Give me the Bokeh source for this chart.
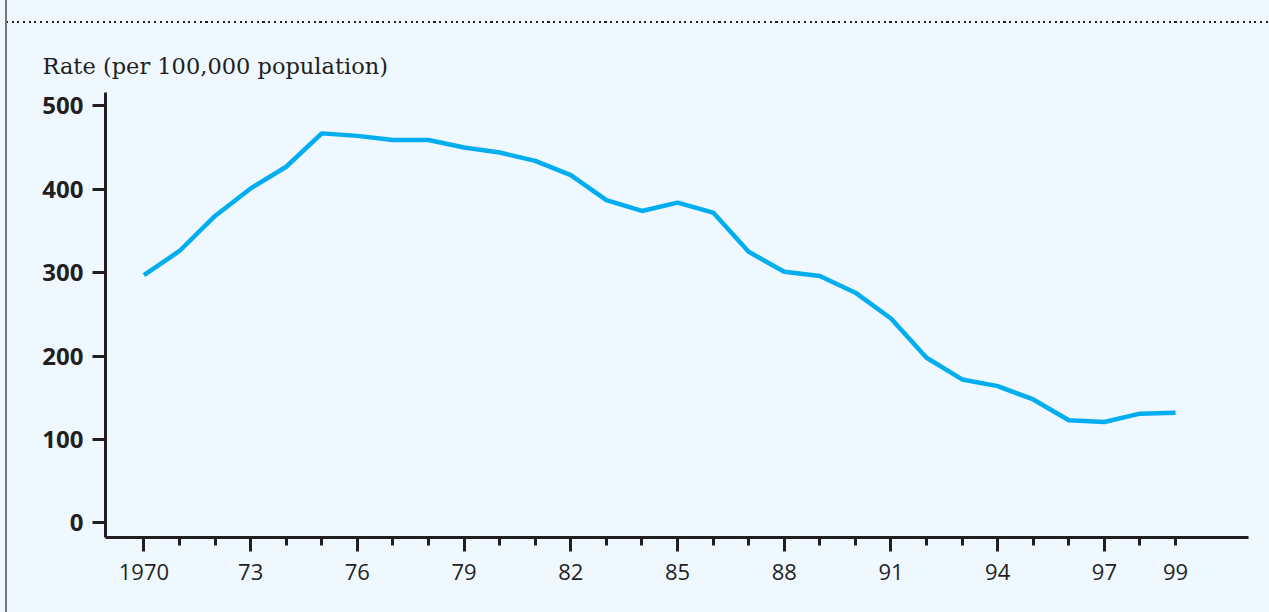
from bokeh.plotting import figure
from bokeh.models import FixedTicker, Range1d, GlobalInlineStyleSheet
from bokeh.embed import file_html
from bokeh.resources import INLINE

years = list(range(1970, 2000))
rates = [297, 326, 368, 401, 427, 467, 464, 459, 459, 450,
         444, 434, 417, 387, 374, 384, 372, 325, 301, 296,
         276, 245, 198, 172, 164, 148, 123, 121, 131, 132]
x_label_years = [1970, 1973, 1976, 1979, 1982, 1985, 1988, 1991, 1994, 1997, 1999]
x_label_texts = ["1970", "73", "76", "79", "82", "85", "88", "91", "94", "97", "99"]
long_tick_years = [1970, 1973, 1976, 1979, 1982, 1985, 1988, 1991, 1994, 1997]
y_ticks = [0, 100, 200, 300, 400, 500]
y_title = "Rate (per 100,000 population)"

BG = "#eff8fe"
INK = "#231f20"
W, H = 1269, 612
FL, FR, FT, FB = 105, 1248, 92, 537

css = f"""
html, body {{ margin: 0 !important; padding: 0; background: {BG}; overflow: hidden; }}
body::before {{ content: ""; position: fixed; top: 21px; left: 6px; right: 0; height: 2px;
  background: repeating-linear-gradient(to right, #222 0px, #222 2px, transparent 2px, transparent 5.7px);
  z-index: 100; pointer-events: none; }}
body::after {{ content: ""; position: fixed; top: 0; bottom: 0; left: 5px; width: 1.5px;
  background: #777; z-index: 100; pointer-events: none; }}
"""

p = figure(width=W, height=H, output_backend="svg", toolbar_location=None,
           x_range=Range1d(1968.92, 2001.05), y_range=Range1d(-17.5, 516),
           min_border_left=FL, min_border_right=W - FR,
           min_border_top=FT, min_border_bottom=H - FB,
           title=y_title)
p.stylesheets = [GlobalInlineStyleSheet(css=css)]
p.background_fill_color = BG
p.border_fill_color = BG
p.outline_line_color = None
p.grid.visible = False

p.title.align = "left"
p.title.offset = 42 - FL
p.title.text_font = "DejaVu Serif"
p.title.text_font_size = "22.5px"
p.title.text_font_style = "normal"
p.title.text_color = INK
p.title.standoff = 28

p.line(years, rates, line_color="#00aeef", line_width=4.5)

# x axis
xa = p.xaxis[0]
xa.ticker = FixedTicker(ticks=years, minor_ticks=long_tick_years)
overrides = {y: "" for y in years}
for yr, t in zip(x_label_years, x_label_texts):
    overrides[yr] = t
xa.major_label_overrides = overrides
xa.axis_line_color = INK
xa.axis_line_width = 3
xa.major_tick_line_color = INK
xa.major_tick_line_width = 3
xa.major_tick_in = 0
xa.major_tick_out = 8
xa.minor_tick_line_color = INK
xa.minor_tick_line_width = 3
xa.minor_tick_in = 0
xa.minor_tick_out = 14
xa.major_label_text_font = "Open Sans"
xa.major_label_text_font_size = "22px"
xa.major_label_text_color = INK
xa.major_label_standoff = 12

# y axis
ya = p.yaxis[0]
ya.ticker = FixedTicker(ticks=y_ticks)
ya.axis_line_color = INK
ya.axis_line_width = 3
ya.major_tick_line_color = INK
ya.major_tick_line_width = 3
ya.major_tick_in = 0
ya.major_tick_out = 13
ya.minor_tick_line_color = None
ya.major_label_text_font = "Open Sans"
ya.major_label_text_font_style = "bold"
ya.major_label_text_font_size = "24px"
ya.major_label_text_color = INK
ya.major_label_standoff = 9

open("out.html", "w").write(file_html(p, INLINE))
